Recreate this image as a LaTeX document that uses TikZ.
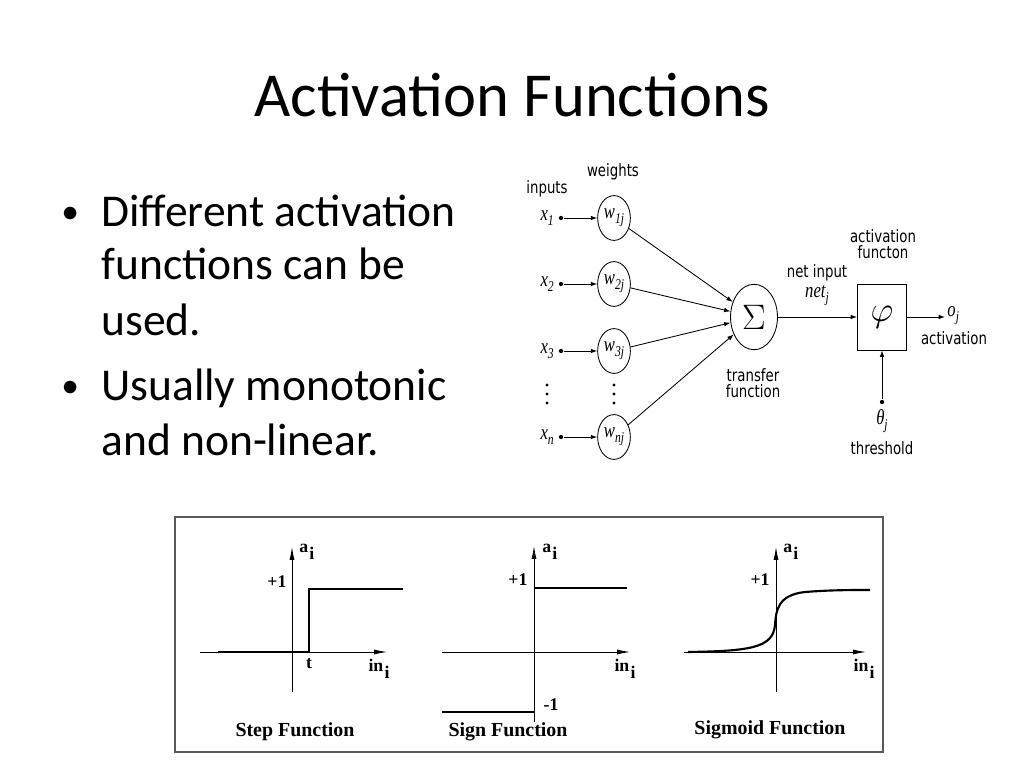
\documentclass[tikz,border=0pt]{standalone}
\usepackage{fontspec}
\usepackage{graphicx}
\usepackage{amsmath}
\setmainfont{Carlito}
\newfontfamily\nnfont{DejaVu Sans}
\newfontfamily\plotfont{Liberation Serif}
\usetikzlibrary{arrows.meta}
\usetikzlibrary{shapes.geometric}
\usetikzlibrary{positioning}

\newcommand{\squeeze}[1]{\scalebox{0.78}[1]{#1}}
\newcommand{\nnvar}[2]{\squeeze{\plotfont\itshape #1\raisebox{-3.5pt}{\fontsize{10.5}{10.5}\selectfont #2}}}
\newcommand{\plotsub}[2]{#1\kern0.8pt\raisebox{-4.5pt}{#2}}

\tikzset{
  slidetitle/.style={font=\fontsize{44}{44}\selectfont,anchor=base,inner sep=0pt},
  bullettext/.style={font=\fontsize{32}{32}\selectfont,anchor=base west,inner sep=0pt},
  bulletmark/.style={font=\fontsize{25}{25}\selectfont,anchor=base west,inner sep=0pt},
  nnlabel/.style={font=\nnfont\fontsize{12}{11.5}\selectfont,inner sep=0pt,align=center},
  mathlab/.style={font=\fontsize{15}{15}\selectfont,inner sep=0pt},
  inpoint/.style={circle,fill,inner sep=0pt,minimum size=3pt},
  dotmark/.style={circle,fill,inner sep=0pt,minimum size=2.2pt},
  weight/.style={draw,ellipse,minimum width=23pt,minimum height=31.5pt,inner sep=0pt,
    font=\fontsize{15}{15}\selectfont},
  sumnode/.style={draw,ellipse,minimum width=33pt,minimum height=46pt,inner sep=0pt,
    font=\fontsize{31}{31}\selectfont},
  phibox/.style={draw,rectangle,minimum width=34.5pt,minimum height=46.4pt,inner sep=0pt,
    font=\fontsize{30}{30}\selectfont},
  frame/.style={draw=black!65,line width=1.2pt},
  axis/.style={line width=0.6pt,-{Latex[length=9pt,width=3.5pt]}},
  curve/.style={line width=1.5pt},
  plotlab/.style={font=\plotfont\bfseries\fontsize{12.5}{13}\selectfont,inner sep=0pt},
  plottitle/.style={font=\plotfont\bfseries\fontsize{14}{14}\selectfont,inner sep=0pt}
}

\begin{document}
\begin{tikzpicture}[x=0.703125pt,y=-0.703125pt,node distance=3pt,
    >={Latex[length=4.5pt,width=3.2pt]},line width=0.6pt]
  \useasboundingbox[fill=white] (0,0) rectangle (1024,768);

  % slide text
  \node [slidetitle] (title) at (512,117) {Activation Functions};
  \node [bulletmark] (bul1) at (61,224) {•};
  \node [bullettext] (txt1) at (101,227) {Different activation};
  \node [bullettext] (txt2) at (101,280) {functions can be};
  \node [bullettext] (txt3) at (101,335) {used.};
  \node [bulletmark] (bul2) at (61,397) {•};
  \node [bullettext] (txt4) at (101,400) {Usually monotonic};
  \node [bullettext] (txt5) at (101,455) {and non-linear.};

  % neuron
  \node [nnlabel] (inputs) at (547,189) {\squeeze{inputs}};
  \node [nnlabel] (weights) at (613,172) {\squeeze{weights}};
  \node [inpoint] (d1) at (561,218) {};
  \node [inpoint] (d2) at (561,284) {};
  \node [inpoint] (d3) at (561,351) {};
  \node [inpoint] (dn) at (561,437) {};
  \node [mathlab] (x1) [left=of d1] {\nnvar{x}{1}};
  \node [mathlab] (x2) [left=of d2] {\nnvar{x}{2}};
  \node [mathlab] (x3) [left=of d3] {\nnvar{x}{3}};
  \node [mathlab] (xn) [left=of dn] {\nnvar{x}{n}};
  \node [dotmark] (xdot1) at (547,385) {};
  \node [dotmark] (xdot2) at (547,394) {};
  \node [dotmark] (xdot3) at (547,403) {};
  \node [weight] (w1) at (614,218) {\nnvar{w}{1j}};
  \node [weight] (w2) at (614,284) {\nnvar{w}{2j}};
  \node [weight] (w3) at (614,351) {\nnvar{w}{3j}};
  \node [weight] (wn) at (614,437) {\nnvar{w}{nj}};
  \node [dotmark] (wdot1) at (614,385) {};
  \node [dotmark] (wdot2) at (614,394) {};
  \node [dotmark] (wdot3) at (614,403) {};
  \node [sumnode] (sum) at (754,317) {$\Sigma$};
  \node [nnlabel] (transfer) at (753,383) {\squeeze{transfer}\\\squeeze{function}};
  \node [nnlabel] (netin) at (817,273) {\squeeze{net input}};
  \node [mathlab] (net) at (817,296) {\nnvar{net}{j}};
  \node [phibox] (phi) at (882,317) {$\varphi$};
  \node [nnlabel] (actfn) at (883,244) {\squeeze{activation}\\\squeeze{functon}};
  \coordinate (out) at (945,317);
  \node [mathlab,anchor=west] (oj) at (947,316) {\nnvar{o}{j}};
  \node [nnlabel] (actout) at (954,338) {\squeeze{activation}};
  \node [inpoint] (th) at (882,402) {};
  \node [mathlab] (theta) at (882,421) {\nnvar{θ}{j}};
  \node [nnlabel] (thresh) at (882,448) {\squeeze{threshold}};
  \path[->]
    (d1) edge (w1)
    (d2) edge (w2)
    (d3) edge (w3)
    (dn) edge (wn)
    (w1) edge (sum)
    (w2) edge (sum)
    (w3) edge (sum)
    (wn) edge (sum)
    (sum) edge (phi)
    (phi) edge (out)
    (th) edge (phi);

  % function plots
  \draw [frame] (175,517) rectangle (883,752);
  % step
  \draw [axis] (200,652) -- (387,652);
  \draw [axis] (292,692) -- (292,547);
  \draw [curve] (218,652) -- (309,652) -- (309,589) -- (403,589);
  \node [plotlab,anchor=west] (stepa) at (299,552) {\plotsub{a}{i}};
  \node [plotlab] (stepone) at (277,582) {+1};
  \node [plotlab] (stept) at (309,664) {t};
  \node [plotlab] (stepin) at (379,669) {\plotsub{in}{i}};
  \node [plottitle] (steptitle) at (295,732) {Step Function};
  % sign
  \draw [axis] (442,652) -- (630,652);
  \draw [axis] (534,722) -- (534,546);
  \draw [curve] (534,588) -- (627,588);
  \draw [curve] (442,712) -- (534,712);
  \node [plotlab,anchor=west] (signa) at (542,552) {\plotsub{a}{i}};
  \node [plotlab] (signone) at (518,580) {+1};
  \node [plotlab] (signmone) at (551,705) {-1};
  \node [plotlab] (signin) at (625,669) {\plotsub{in}{i}};
  \node [plottitle] (signtitle) at (508,732) {Sign Function};
  % sigmoid
  \draw [axis] (684,652) -- (866,652);
  \draw [axis] (776,692) -- (776,547);
  \draw [curve] (688,652) .. controls (750,651) and (773,648) .. (775,625)
    .. controls (776,610) and (778,595) .. (805,592)
    .. controls (830,590) and (850,590) .. (870,590);
  \node [plotlab,anchor=west] (sigmaa) at (783,552) {\plotsub{a}{i}};
  \node [plotlab] (sigmaone) at (760,580) {+1};
  \node [plotlab] (sigmain) at (864,669) {\plotsub{in}{i}};
  \node [plottitle] (sigmatitle) at (770,730) {Sigmoid Function};
\end{tikzpicture}
\end{document}
